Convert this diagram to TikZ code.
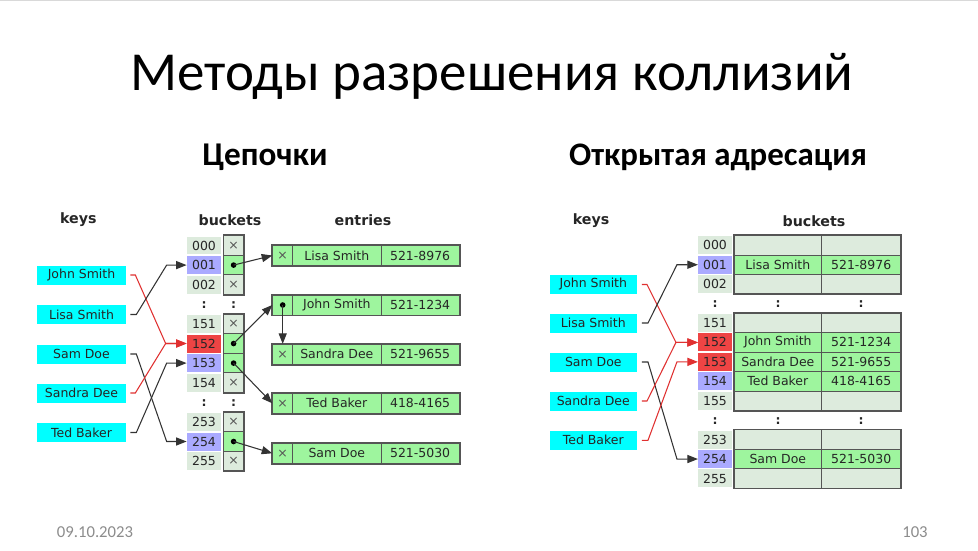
\documentclass[tikz,border=0pt]{standalone}
\usepackage{fontspec}
\setmainfont{Carlito}
\newfontfamily\dvsans{DejaVu Sans}
\usetikzlibrary{arrows.meta,calc}

\definecolor{keycyan}{HTML}{00FFFF}
\definecolor{idxgray}{HTML}{DDEBDD}
\definecolor{idxblue}{HTML}{AAAAFF}
\definecolor{idxred}{HTML}{EE4444}
\definecolor{cellgreen}{HTML}{9EF59E}
\definecolor{cellempty}{HTML}{DDEBDD}
\definecolor{edgegray}{HTML}{555555}
\definecolor{linkred}{HTML}{E03030}
\definecolor{linkdark}{HTML}{333333}
\definecolor{footgray}{HTML}{8C8C8C}
\definecolor{topline}{HTML}{D9D9D9}

\newcommand\dfont{\dvsans\fontsize{7.1pt}{8.5pt}\selectfont}
\newcommand\hfont{\dvsans\bfseries\fontsize{8.1pt}{9.5pt}\selectfont}

\begin{document}
\begin{tikzpicture}[x=0.02cm,y=-0.02cm,
  txt/.style={font=\dfont, text=black!85, inner sep=0pt},
  keybox/.style={txt, fill=keycyan, minimum height=0.38cm},
  lidx/.style={txt, minimum width=0.68cm, minimum height=0.36cm},
  lptr/.style={txt, draw=edgegray, line width=0.5pt, minimum width=0.388cm, minimum height=0.392cm, text=edgegray},
  ecell/.style={txt, draw=edgegray, line width=0.5pt, fill=cellgreen, minimum height=0.4cm},
  ridx/.style={txt, minimum width=0.668cm, minimum height=0.36cm},
  rcell/.style={txt, draw=edgegray, line width=0.5pt, minimum height=0.3886cm},
  group/.style={draw=edgegray, line width=0.9pt},
  colon/.style={txt, font=\dfont\bfseries},
  label/.style={font=\hfont, text=black!85, inner sep=0pt},
  link/.style={draw=linkdark, line width=0.6pt, -{Triangle[length=6pt,width=4.6pt]}},
  redlink/.style={link, draw=linkred},
  ptrlink/.style={link},
  dot/.style={fill=black}
]
\useasboundingbox (0,0) rectangle (978,551);
\fill[white] (0,0) rectangle (978,551);
\fill[topline] (0,0) rectangle (978,1.5);

% titles
\node[font=\fontsize{31.3pt}{35pt}\selectfont, anchor=base, inner sep=0] (title) at (492,91) {Методы разрешения коллизий};
\node[font=\bfseries\fontsize{18.9pt}{22pt}\selectfont, anchor=base, inner sep=0] (hchain) at (265,165) {Цепочки};
\node[font=\bfseries\fontsize{18.7pt}{22pt}\selectfont, anchor=base, inner sep=0] (hopen) at (718,165) {Открытая адресация};

% footer
\node[font=\fontsize{9.5pt}{11pt}\selectfont, text=footgray, anchor=base, inner sep=0] (date) at (95,537) {09.10.2023};
\node[font=\fontsize{9.5pt}{11pt}\selectfont, text=footgray, anchor=base, inner sep=0] (page) at (915,537) {103};

% ---------- separate chaining ----------
\node[label] (lkeys) at (78.3,220) {keys};
\node[label] (lbuck) at (230,220) {buckets};
\node[label] (lent) at (363,220) {entries};

\node[keybox, minimum width=1.78cm] (lkJohn) at (81.5,275) {John Smith};
\node[keybox, minimum width=1.78cm] (lkLisa) at (81.5,314.5) {Lisa Smith};
\node[keybox, minimum width=1.78cm] (lkSam) at (81.5,354) {Sam Doe};
\node[keybox, minimum width=1.78cm] (lkSandra) at (81.5,393) {Sandra Dee};
\node[keybox, minimum width=1.78cm] (lkTed) at (81.5,432.5) {Ted Baker};

\foreach \r/\lab/\icol in {0/000/idxgray,1/001/idxblue,2/002/idxgray,
  4/151/idxgray,5/152/idxred,6/153/idxblue,7/154/idxgray,
  9/253/idxgray,10/254/idxblue,11/255/idxgray}{
  \node[lidx, fill=\icol] (lb\lab) at (204,245.5+19.6*\r) {\lab};
}
\foreach \r/\lab in {0/000,2/002,4/151,7/154,9/253,11/255}{
  \node[lptr, fill=cellempty] (lp\lab) at (233.6,245.5+19.6*\r) {×};
}
\foreach \r/\lab in {1/001,5/152,6/153,10/254}{
  \node[lptr, fill=cellgreen] (lp\lab) at (233.6,245.5+19.6*\r) {};
  \fill[dot] (lp\lab.center) circle (1.6pt);
}
\draw[group] (lp000.north west) rectangle (lp002.south east);
\draw[group] (lp151.north west) rectangle (lp154.south east);
\draw[group] (lp253.north west) rectangle (lp255.south east);

\node[colon] (lc1) at (204,305.5) {:};
\node[colon] (lc2) at (233.6,305.5) {:};
\node[colon] (lc3) at (204,403.5) {:};
\node[colon] (lc4) at (233.6,403.5) {:};

% chained entries
\foreach \i/\y/\nm/\nu/\mk in {1/255.5/Lisa Smith/521-8976/×,
  2/305/John Smith/521-1234/{},
  3/354.3/Sandra Dee/521-9655/×,
  4/403.3/Ted Baker/418-4165/×,
  5/453.3/Sam Doe/521-5030/×}{
  \node[ecell, minimum width=0.4cm, text=edgegray] (ep\i) at (282.7,\y) {\mk};
  \node[ecell, minimum width=1.766cm] (en\i) at (336.85,\y) {\nm};
  \node[ecell, minimum width=1.566cm] (ev\i) at (420.15,\y) {\nu};
  \draw[group] (ep\i.north west) rectangle (ev\i.south east);
}
\fill[dot] (ep2.center) circle (1.6pt);

% keys to buckets
\draw[redlink] ($(lkJohn.east)+(4,0)$) -- ++(5,0) -- ($(lb152.west)+(-21,0)$) -- (lb152.west);
\draw[link] ($(lkLisa.east)+(4,0)$) -- ++(6,0) -- ($(lb001.west)+(-20,0)$) -- (lb001.west);
\draw[link] ($(lkSam.east)+(4,0)$) -- ++(6,0) -- ($(lb254.west)+(-20,0)$) -- (lb254.west);
\draw[redlink] ($(lkSandra.east)+(4,0)$) -- ++(5,0) -- ($(lb152.west)+(-21,0)$) -- (lb152.west);
\draw[link] ($(lkTed.east)+(4,0)$) -- ++(6,0) -- ($(lb153.west)+(-20,0)$) -- (lb153.west);

% buckets to entries
\draw[ptrlink] (lp001.center) -- (ep1.west);
\draw[ptrlink] (lp152.center) -- (ep2.west);
\draw[ptrlink] (lp153.center) -- (ep4.west);
\draw[ptrlink] (lp254.center) -- (ep5.west);
\draw[ptrlink] (ep2.center) -- (ep3.north);

% ---------- open addressing ----------
\node[label] (rkeys) at (591,221) {keys};
\node[label] (rbuck) at (814,221) {buckets};

\node[keybox, minimum width=1.734cm] (rkJohn) at (593.3,284.5) {John Smith};
\node[keybox, minimum width=1.734cm] (rkLisa) at (593.3,323) {Lisa Smith};
\node[keybox, minimum width=1.734cm] (rkSam) at (593.3,362) {Sam Doe};
\node[keybox, minimum width=1.734cm] (rkSandra) at (593.3,401) {Sandra Dee};
\node[keybox, minimum width=1.734cm] (rkTed) at (593.3,440.3) {Ted Baker};

\foreach \r/\lab/\icol/\nm/\nu/\fc in {
  0/000/idxgray/{}/{}/cellempty,
  1/001/idxblue/Lisa Smith/521-8976/cellgreen,
  2/002/idxgray/{}/{}/cellempty,
  4/151/idxgray/{}/{}/cellempty,
  5/152/idxred/John Smith/521-1234/cellgreen,
  6/153/idxred/Sandra Dee/521-9655/cellgreen,
  7/154/idxblue/Ted Baker/418-4165/cellgreen,
  8/155/idxgray/{}/{}/cellempty,
  10/253/idxgray/{}/{}/cellempty,
  11/254/idxblue/Sam Doe/521-5030/cellgreen,
  12/255/idxgray/{}/{}/cellempty}{
  \node[ridx, fill=\icol] (rb\lab) at (715,245.3+19.43*\r) {\lab};
  \node[rcell, fill=\fc, minimum width=1.754cm] (rn\lab) at (777.85,245.3+19.43*\r) {\nm};
  \node[rcell, fill=\fc, minimum width=1.58cm] (rv\lab) at (861.2,245.3+19.43*\r) {\nu};
}
\draw[group] (rn000.north west) rectangle (rv002.south east);
\draw[group] (rn151.north west) rectangle (rv155.south east);
\draw[group] (rn253.north west) rectangle (rv255.south east);

\node[colon] (rc1) at (715,304) {:};
\node[colon] (rc2) at (778,304) {:};
\node[colon] (rc3) at (861,304) {:};
\node[colon] (rc4) at (715,421) {:};
\node[colon] (rc5) at (778,421) {:};
\node[colon] (rc6) at (861,421) {:};

\draw[redlink] ($(rkJohn.east)+(5,0)$) -- ++(5,0) -- ($(rb152.west)+(-22,0)$) -- (rb152.west);
\draw[link] ($(rkLisa.east)+(5,0)$) -- ++(6,0) -- ($(rb001.west)+(-21,0)$) -- (rb001.west);
\draw[link] ($(rkSam.east)+(5,0)$) -- ++(6,0) -- ($(rb254.west)+(-21,0)$) -- (rb254.west);
\draw[redlink] ($(rkSandra.east)+(5,0)$) -- ++(5,0) -- ($(rb152.west)+(-22,0)$) -- (rb152.west);
\draw[redlink] ($(rkTed.east)+(5,0)$) -- ++(6,0) -- ($(rb153.west)+(-21,0)$) -- (rb153.west);
\end{tikzpicture}
\end{document}
